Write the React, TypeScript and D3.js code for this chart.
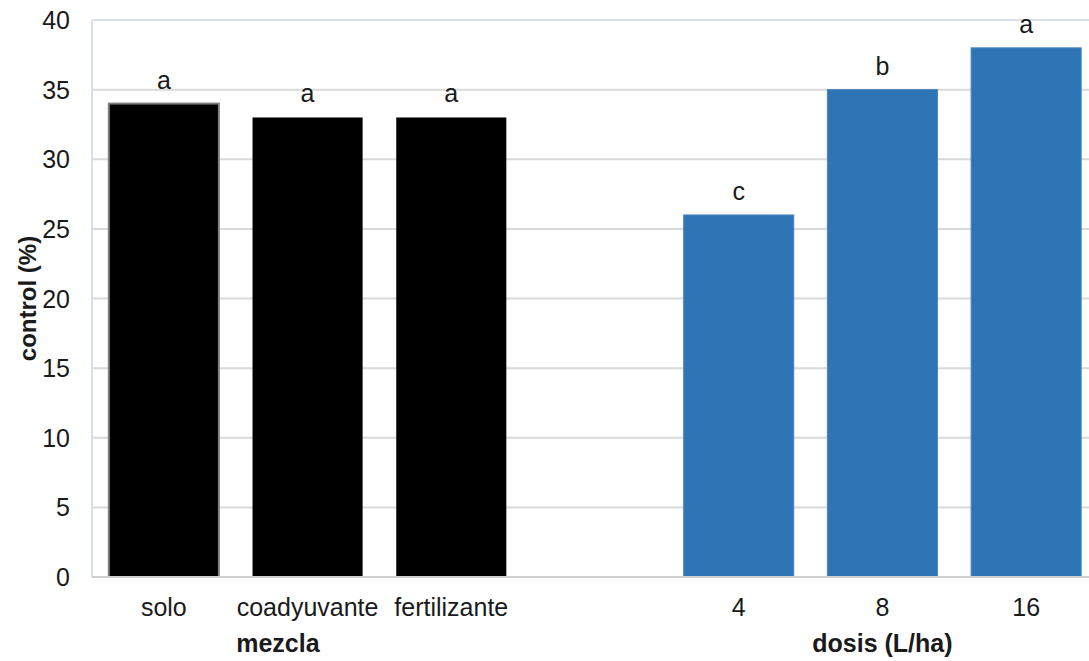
import React from "react";
import * as d3 from "d3";

const categories = ["solo", "coadyuvante", "fertilizante", "", "4", "8", "16"];
const values: (number | null)[] = [34, 33, 33, null, 26, 35, 38];
const letters = ["a", "a", "a", "", "c", "b", "a"];
const groups = ["mezcla", "mezcla", "mezcla", "", "dosis", "dosis", "dosis"];
const yTicks = [0, 5, 10, 15, 20, 25, 30, 35, 40];
const groupLabels = ["mezcla", "dosis (L/ha)"];
const yTitle = "control (%)";

const W = 1089;
const H = 661;
const left = 92;
const right = 1098;
const top = 20;
const bottom = 577;
const FONT = "'Liberation Sans', Arial, sans-serif";

export default function App() {
  const x = d3
    .scaleBand<string>()
    .domain(categories.map((c, i) => `${i}`))
    .range([left, right])
    .paddingInner(0.234)
    .paddingOuter(0.117);
  const y = d3.scaleLinear().domain([0, 40]).range([bottom, top]);
  const bw = x.bandwidth();
  const cx = (i: number) => (x(`${i}`) as number) + bw / 2;

  return (
    <svg
      width={W}
      height={H}
      style={{ position: "absolute", left: 0, top: 0, background: "#fff" }}
      fontFamily={FONT}
    >
      {/* gridlines */}
      {yTicks.map((t) =>
        t === 0 ? null : (
          <line
            key={t}
            x1={left}
            x2={right}
            y1={y(t)}
            y2={y(t)}
            stroke={t === 40 ? "#d9dfeb" : "#d9d9d9"}
            strokeWidth={2}
          />
        )
      )}
      {/* left axis line */}
      <line x1={left} x2={left} y1={top} y2={bottom} stroke="#d9dfeb" strokeWidth={2} />
      {/* bars */}
      {values.map((v, i) =>
        v == null ? null : (
          <rect
            key={i}
            x={x(`${i}`)}
            y={y(v)}
            width={bw}
            height={y(0) - y(v)}
            fill={groups[i] === "mezcla" ? "#000000" : "#2e75b6"}
            stroke={i === 0 ? "#808080" : groups[i] === "dosis" ? "#4a86c0" : "none"}
            strokeWidth={i === 0 ? 2 : 1}
          />
        )
      )}
      {/* bottom axis line */}
      <line x1={left} x2={right} y1={bottom} y2={bottom} stroke="#d0d0d0" strokeWidth={2} />
      {/* letters */}
      {values.map((v, i) =>
        v == null ? null : (
          <text
            key={i}
            x={cx(i)}
            y={y(v) - 15}
            textAnchor="middle"
            fontSize={25}
            fill="#1a1a1a"
          >
            {letters[i]}
          </text>
        )
      )}
      {/* y tick labels */}
      {yTicks.map((t) => (
        <text
          key={t}
          x={70}
          y={y(t)}
          dy="0.36em"
          textAnchor="end"
          fontSize={25}
          fill="#1a1a1a"
        >
          {t}
        </text>
      ))}
      {/* x tick labels */}
      {categories.map((c, i) =>
        c === "" ? null : (
          <text key={i} x={cx(i)} y={616} textAnchor="middle" fontSize={25} fill="#1a1a1a">
            {c}
          </text>
        )
      )}
      {/* group labels */}
      <text x={cx(0) + 114} y={652} textAnchor="middle" fontSize={25} fontWeight="bold" fill="#1a1a1a">
        {groupLabels[0]}
      </text>
      <text x={cx(5)} y={652} textAnchor="middle" fontSize={25} fontWeight="bold" fill="#1a1a1a">
        {groupLabels[1]}
      </text>
      {/* y title */}
      <text
        transform={`translate(36, ${(top + bottom) / 2}) rotate(-90)`}
        textAnchor="middle"
        fontSize={24}
        fontWeight="bold"
        fill="#1a1a1a"
      >
        {yTitle}
      </text>
    </svg>
  );
}
